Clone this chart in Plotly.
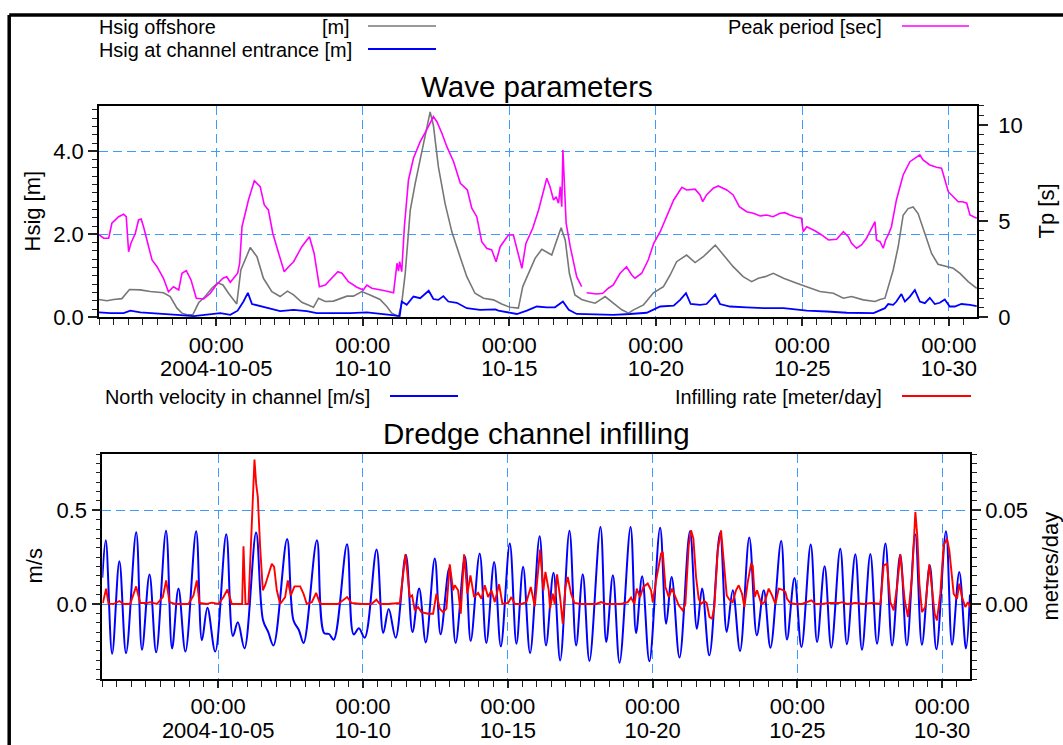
import datetime as dt
import plotly.graph_objects as go

# ---------------- data (days after 2004-10-01 00:00) ----------------
HS_OFF_DAY = [0.0, 0.27, 0.5, 0.78, 1.04, 1.41, 1.75, 2.2, 2.43, 2.66, 2.83, 3.0, 3.2, 3.4, 3.62, 3.85, 4.05, 4.23,
              4.42, 4.7, 4.84, 5.02, 5.16, 5.39, 5.61, 5.9, 6.18, 6.43, 6.64, 6.92, 7.32, 7.49, 7.72, 8.0, 8.46, 8.68,
              8.97, 9.25, 9.59, 9.82, 9.99, 10.22, 10.33, 10.45, 10.62, 10.79, 10.96, 11.13, 11.3, 11.41, 11.58, 11.81,
              12.04, 12.32, 12.55, 12.83, 13.12, 13.46, 13.74, 14.03, 14.31, 14.46, 14.65, 14.88, 15.11, 15.28, 15.45,
              15.62, 15.77, 15.91, 16.05, 16.24, 16.47, 16.7, 16.93, 17.1, 17.27, 17.55, 17.84, 18.07, 18.24, 18.58,
              18.92, 19.26, 19.49, 19.71, 20.05, 20.34, 20.62, 21.03, 21.3, 21.64, 21.98, 22.27, 22.5, 22.73, 23.01,
              23.36, 23.81, 24.26, 24.6, 25.06, 25.4, 25.68, 26.08, 26.48, 26.65, 26.82, 26.93, 27.1, 27.27, 27.44,
              27.61, 27.78, 27.95, 28.18, 28.41, 28.63, 28.92, 29.15, 29.38, 29.66, 29.95]
HS_OFF = [0.43, 0.40, 0.43, 0.45, 0.67, 0.66, 0.62, 0.59, 0.5, 0.22, 0.1, 0.06, 0.06, 0.35, 0.5, 0.7, 0.83, 0.78,
          0.58, 0.32, 1.14, 1.44, 1.68, 1.46, 0.94, 0.62, 0.5, 0.63, 0.54, 0.36, 0.24, 0.46, 0.38, 0.39, 0.51, 0.51,
          0.62, 0.54, 0.43, 0.26, 0.1, 0.02, 0.34, 1.06, 2.58, 3.23, 3.79, 4.43, 4.95, 4.63, 3.63, 2.74,
          2.06, 1.46, 0.98, 0.58, 0.46, 0.42, 0.32, 0.24, 0.22, 0.74, 1.06, 1.42, 1.64, 1.58, 1.5,
          1.86, 2.16, 1.86, 1.06, 0.54, 0.43, 0.38, 0.34, 0.42, 0.5, 0.34, 0.18, 0.1, 0.18, 0.3,
          0.59, 0.74, 1.02, 1.34, 1.5, 1.32, 1.46, 1.74, 1.5, 1.22, 0.98, 0.86, 0.94, 0.98, 1.06,
          0.94, 0.82, 0.7, 0.62, 0.58, 0.46, 0.5, 0.42, 0.38, 0.43, 0.46, 0.74, 1.14, 1.7, 2.46,
          2.62, 2.66, 2.5, 2.02, 1.54, 1.28, 1.22, 1.18, 1.06, 0.86, 0.7]

HS_CH_DAY = [0.0, 0.38, 0.84, 1.07, 1.41, 1.98, 2.66, 3.23, 3.68, 4.14, 4.48, 4.73, 4.93, 5.08, 5.22, 5.5, 5.84, 6.18,
             6.64, 7.09, 7.43, 8.0, 8.57, 9.14, 9.48, 9.93, 10.26, 10.33, 10.5, 10.73, 10.96, 11.25, 11.41, 11.58,
             11.75, 11.92, 12.21, 12.55, 13.0, 13.52, 13.63, 13.97, 14.26, 14.6, 14.94, 15.28, 15.56, 15.83, 16.03,
             16.3, 16.98, 17.55, 18.12, 18.69, 19.15, 19.61, 19.83, 20.03, 20.19, 20.51, 20.73, 21.03, 21.19, 21.53,
             22.1, 22.67, 23.36, 24.15, 24.83, 25.52, 26.43, 26.82, 26.93, 27.1, 27.21, 27.38, 27.5, 27.67, 27.84,
             28.01, 28.18, 28.35, 28.52, 28.69, 28.86, 29.03, 29.2, 29.43, 29.72, 29.95]
HS_CH = [0.12, 0.1, 0.1, 0.16, 0.12, 0.1, 0.06, 0.03, 0.06, 0.1, 0.06, 0.16, 0.38, 0.59, 0.32, 0.27, 0.22, 0.15,
         0.18, 0.15, 0.1, 0.1, 0.1, 0.12, 0.1, 0.06, 0.03, 0.38, 0.3, 0.5, 0.46, 0.64, 0.44, 0.42,
         0.51, 0.38, 0.35, 0.22, 0.18, 0.19, 0.16, 0.11, 0.08, 0.16, 0.26, 0.24, 0.24, 0.38, 0.18,
         0.08, 0.06, 0.06, 0.08, 0.11, 0.26, 0.28, 0.42, 0.58, 0.32, 0.3, 0.32, 0.55, 0.32, 0.26,
         0.24, 0.22, 0.22, 0.16, 0.14, 0.11, 0.1, 0.22, 0.32, 0.3, 0.38, 0.56, 0.38, 0.5, 0.66,
         0.38, 0.34, 0.47, 0.32, 0.35, 0.43, 0.26, 0.26, 0.32, 0.3, 0.27]

TP_DAY = [0.01, 0.16, 0.33, 0.44, 0.67, 0.84, 0.93, 1.01, 1.09, 1.24, 1.35, 1.44, 1.52, 1.69, 1.81, 1.98, 2.2, 2.37,
          2.54, 2.72, 2.83, 2.98, 3.14, 3.32, 3.57, 3.8, 4.0, 4.23, 4.36, 4.48, 4.73, 4.8, 4.88, 5.1, 5.3, 5.5, 5.64,
          5.78, 5.93, 6.13, 6.32, 6.47, 6.64, 6.92, 7.18, 7.34, 7.52, 7.72, 8.0, 8.15, 8.29, 8.51, 8.8, 9.02, 9.14,
          9.31, 9.71, 10.05, 10.17, 10.22, 10.26, 10.33, 10.42, 10.56, 10.73, 10.96, 11.18, 11.41, 11.53, 11.7,
          11.87, 12.1, 12.33, 12.57, 12.72, 12.89, 13.06, 13.23, 13.4, 13.55, 13.69, 13.97, 14.14, 14.28, 14.43,
          14.57, 14.8, 15.0, 15.17, 15.28, 15.39, 15.51, 15.6, 15.68, 15.74, 15.79, 15.83, 15.87, 15.94, 16.08,
          16.3, 16.47, 16.55, 16.64, 16.98, 17.19, 17.38, 17.55, 17.78, 18.0, 18.18, 18.29, 18.52, 18.74, 18.93,
          19.15, 19.38, 19.61, 19.89, 20.05, 20.34, 20.51, 20.6, 20.73, 20.96, 21.13, 21.42, 21.64, 21.85, 22.1,
          22.33, 22.56, 22.78, 23.0, 23.24, 23.4, 23.58, 23.8, 23.97, 24.03, 24.15, 24.43, 24.66, 24.89, 25.17,
          25.4, 25.57, 25.68, 25.85, 26.02, 26.19, 26.36, 26.48, 26.53, 26.65, 26.76, 26.84, 26.93, 27.04, 27.21,
          27.44, 27.67, 28.01, 28.12, 28.35, 28.58, 28.75, 28.98, 29.15, 29.32, 29.47, 29.61, 29.72, 29.83, 29.95]
TP = [4.28, 4.11, 4.11, 4.89, 5.23, 5.36, 5.23, 3.41, 3.85, 4.37, 5.06, 5.11, 4.71, 3.67, 2.98, 2.63, 2.03, 1.33,
      1.59, 1.42, 2.29, 2.43, 1.94, 0.99, 0.95, 1.25, 1.68, 2.03, 2.11, 1.82, 2.29, 2.81, 4.71, 6.1, 7.1, 6.79, 5.84,
      5.58, 4.37, 3.33, 2.37, 2.63, 2.89, 3.67, 4.19, 3.33, 1.59, 1.68, 2.11, 2.37, 2.29, 1.85, 1.56, 1.42, 1.68,
      1.51, 1.39, 1.28, 2.81, 2.4, 2.89, 2.37, 4.71, 7.14, 8.27, 9.13, 9.74, 10.43, 10.17, 9.57,
      8.87, 8.09, 6.97, 6.62, 5.67, 5.23, 3.93, 3.59, 3.5, 2.89, 3.67, 4.28, 4.28, 3.5, 2.55,
      3.85, 4.63, 5.58, 6.62, 7.23, 6.79, 6.1, 6.27, 5.93, 6.79, 5.75, 8.7, 7.14, 4.89, 3.67,
      2.11, 1.59, None, 1.28, 1.21, 1.25, 1.51, 1.68, 2.29, 2.63, 2.2, 2.03, 2.29, 2.98, 3.85,
      4.45, 5.23, 6.1, 6.76, 6.62, 6.66, 6.36, 6.01, 6.36, 6.71, 6.83, 6.62, 6.36, 5.75, 5.49,
      5.41, 5.27, 5.32, 5.23, 5.41, 5.44, 5.32, 5.2, 5.15, 4.45, 4.71, 4.5, 4.28, 4.02, 4.06,
      4.45, 4.19, 3.85, 3.59, 3.76, 4.11, 4.63, 4.97, 4.02, 3.93, 3.59, 4.02, 4.28, 4.71, 6.1,
      7.4, 8.09, 8.44, 8.18, 7.92, 7.8, 7.75, 6.53, 6.27, 6.01, 6.01, 5.93, 5.32, 5.23, 5.15]

VEL_DAY = [0.0, 0.12, 0.34, 0.59, 0.82, 1.17, 1.37, 1.63, 1.86, 2.2, 2.41, 2.63, 2.87, 3.24, 3.44, 3.63, 3.9, 4.28,
           4.51, 4.68, 4.91, 5.31, 5.55, 5.73, 5.91, 6.38, 6.6, 6.79, 6.95, 7.41, 7.66, 7.83, 7.99, 8.45, 8.68, 8.86,
           9.06, 9.47, 9.7, 9.89, 10.13, 10.48, 10.71, 10.94, 11.17, 11.48, 11.68, 11.98, 12.2, 12.52, 12.72, 13.03,
           13.26, 13.53, 13.76, 14.07, 14.3, 14.53, 14.77, 15.1, 15.32, 15.58, 15.81, 16.13, 16.36, 16.59, 16.82,
           17.2, 17.4, 17.63, 17.86, 18.24, 18.43, 18.64, 18.89, 19.26, 19.47, 19.66, 19.93, 20.29, 20.53, 20.71,
           20.96, 21.33, 21.56, 21.77, 22.02, 22.34, 22.6, 22.84, 23.07, 23.44, 23.64, 23.9, 24.14, 24.46, 24.68,
           24.94, 25.17, 25.48, 25.71, 26.0, 26.23, 26.52, 26.75, 27.04, 27.27, 27.55, 27.78, 28.07, 28.3, 28.57,
           28.8, 29.13, 29.34, 29.59, 29.82, 29.96]
VEL = [0.14, 0.34, -0.265, 0.228, -0.262, 0.383, -0.244, 0.157, -0.258, 0.391, -0.237, 0.082, -0.254, 0.388, -0.194,
       -0.02, -0.254, 0.372, -0.171, -0.098, -0.237, 0.381, -0.087, -0.15, -0.221, 0.347, -0.087, -0.14, -0.208,
       0.34, -0.155, -0.16, -0.19, 0.318, -0.162, -0.13, -0.18, 0.29, -0.155, -0.027, -0.18, 0.263, -0.15, 0.082,
       -0.205, 0.242, -0.162, 0.192, -0.208, 0.254, -0.197, 0.269, -0.208, 0.224, -0.226, 0.322, -0.212, 0.198,
       -0.262, 0.361, -0.221, 0.167, -0.301, 0.39, -0.221, 0.158, -0.304, 0.411, -0.203, 0.153, -0.313, 0.411,
       -0.155, 0.148, -0.306, 0.406, -0.105, 0.144, -0.286, 0.388, -0.132, 0.082, -0.274, 0.379, -0.149, 0.073,
       -0.251, 0.354, -0.167, 0.073, -0.233, 0.336, -0.19, 0.139, -0.23, 0.317, -0.203, 0.201, -0.233, 0.294,
       -0.215, 0.265, -0.244, 0.267, -0.212, 0.322, -0.221, 0.263, -0.221, 0.37, -0.217, 0.206, -0.242, 0.388,
       -0.217, 0.171, -0.238, 0.05]

INF_DAY = [0.018, 0.133, 0.214, 0.387, 0.594, 0.732, 0.962, 1.169, 1.307, 1.537, 1.652, 1.883, 2.09, 2.205, 2.32,
           2.516, 2.803, 2.976, 3.148, 3.264, 3.356, 3.609, 3.781, 4.012, 4.184, 4.322, 4.472, 4.759, 4.829, 4.875,
           4.944, 5.047, 5.162, 5.254, 5.312, 5.369, 5.45, 5.542, 5.623, 5.738, 5.853, 5.933, 6.025, 6.14, 6.313,
           6.405, 6.509, 6.635, 6.831, 6.946, 7.061, 7.234, 7.383, 7.498, 7.567, 7.797, 8.143, 8.453, 8.603, 8.948,
           9.293, 9.466, 9.581, 9.869, 10.272, 10.467, 10.617, 10.697, 10.789, 10.904, 11.019, 11.25, 11.422,
           11.537, 11.652, 11.767, 11.882, 11.997, 12.113, 12.17, 12.285, 12.377, 12.492, 12.607, 12.711, 12.838,
           12.976, 13.091, 13.206, 13.321, 13.436, 13.551, 13.701, 13.816, 14.012, 14.127, 14.242, 14.472, 14.645,
           14.795, 14.933, 15.116, 15.231, 15.3, 15.415, 15.461, 15.553, 15.622, 15.703, 15.806, 15.898, 15.99,
           16.071, 16.186, 16.301, 16.531, 16.819, 17.049, 17.222, 17.394, 17.625, 17.912, 18.142, 18.257, 18.373,
           18.453, 18.568, 18.683, 18.833, 18.948, 19.006, 19.121, 19.294, 19.351, 19.443, 19.558, 19.673, 19.788,
           19.903, 20.041, 20.133, 20.248, 20.329, 20.409, 20.501, 20.593, 20.674, 20.789, 20.869, 20.962, 21.054,
           21.134, 21.249, 21.364, 21.479, 21.56, 21.652, 21.767, 21.882, 21.974, 22.089, 22.17, 22.285, 22.4,
           22.458, 22.527, 22.608, 22.757, 22.872, 23.01, 23.125, 23.24, 23.355, 23.47, 23.585, 23.643, 23.758,
           23.931, 24.161, 24.334, 24.483, 24.621, 24.851, 25.081, 25.427, 25.542, 25.714, 26.002, 26.29, 26.577,
           26.865, 26.98, 27.095, 27.21, 27.325, 27.44, 27.555, 27.704, 27.819, 27.958, 28.073, 28.142, 28.211,
           28.303, 28.418, 28.556, 28.648, 28.74, 28.82, 28.935, 29.05, 29.165, 29.246, 29.396, 29.511, 29.591,
           29.683, 29.798, 29.89, 29.97]
INF = [0.0005, 0.0082, 0.0002, 0.0, 0.0016, 0.0, 0.0, 0.0094, 0.0005, 0.0005, 0.001, 0.0, 0.0037, 0.0126, 0.001,
       0.0, 0.0, 0.0, 0.0046, 0.0126, 0.0005, 0.0, 0.0007, 0.0, 0.0037, 0.0077, 0.0, 0.0, 0.0, 0.0308,
       0.0, 0.0, 0.0464, 0.077, 0.0642, 0.0571, 0.0304, 0.0073, 0.01, 0.0153, 0.0215, 0.0198, 0.0073, 0.0, 0.0037,
       0.0126, 0.0046, 0.0094, 0.0094, 0.0055, 0.0, 0.001, 0.0059, 0.001, 0.0, 0.0, 0.0, 0.0037, 0.0005, 0.0,
       0.0, 0.0023, 0.0, 0.0, 0.0005, 0.0265, 0.0037, 0.0046, -0.0034, -0.0016, -0.0043, -0.0052, -0.0052,
       0.0055, -0.0025, -0.0043, -0.0025, 0.0212, 0.0073, 0.01, 0.0073, -0.0052, 0.0265, 0.0055, 0.0153, 0.0037,
       0.0059, 0.0028, 0.01, 0.0037, 0.0073, 0.001, 0.0105, 0.0, 0.0005, 0.0037, 0.0, 0.0, 0.001,
       0.0091, -0.0012, 0.029, 0.0073, 0.0171, 0.0073, -0.0025, 0.0055, 0.0, 0.0158, 0.0037, -0.0105, 0.0091,
       0.0144, 0.0055, 0.0005, 0.0, 0.0, 0.0, 0.001, 0.0, 0.0, 0.0, 0.001, 0.0034, 0.0,
       0.0082, 0.0037, 0.0091, 0.0109, 0.0073, 0.001, 0.0126, 0.0269, 0.0278, 0.0091, 0.0037, 0.0082, 0.0037,
       -0.0007, -0.0034, 0.0, 0.0313, 0.0393, 0.0349, 0.0144, 0.0028, 0.0, 0.0016, 0.0005, -0.0069, -0.0078,
       -0.0016, 0.0286, 0.0393, 0.018, 0.0046, 0.0023, 0.001, 0.0073, 0.01, 0.0055, -0.0016, 0.0117, 0.0212,
       0.0205, 0.0037, 0.0073, 0.0, 0.001, 0.0082, 0.0046, 0.0, 0.0082, 0.0077, 0.0064, 0.0028, 0.0005,
       0.0, 0.0, 0.001, 0.002, 0.0, 0.0, 0.0005, 0.0005, 0.001, 0.0, 0.0005, 0.0, 0.0005,
       0.0, 0.0206, 0.0215, 0.001, -0.0034, 0.0091, 0.0265, 0.002, -0.0069, 0.0144, 0.0491, 0.0358, 0.0109,
       -0.0043, -0.0016, 0.0212, 0.0073, -0.0052, -0.0087, 0.0055, 0.0313, 0.0349, 0.0286, 0.0055, 0.0028, 0.0109,
       0.0037, -0.0016, 0.001, -0.0016]

MAJOR_DAYS = [4, 9, 14, 19, 24, 29]
TICK_TIME = ["00:00"] * 6
TICK_DATE = ["2004-10-05", "10-10", "10-15", "10-20", "10-25", "10-30"]

# ---------------- helpers ----------------
BASE = dt.datetime(2004, 10, 1)
def to_t(days):
    return [BASE + dt.timedelta(days=d) for d in days]

W, H = 1063, 745          # reference picture size (layout positions are given in these pixels)
FIG_H = 758               # figure height that fills the captured area
def fx(p):
    return p / W
def fy(p):
    return 1 - p / H

FONT = "Liberation Sans, Arial, Helvetica, sans-serif"
GRID = "#3d9bff"
DASH = "9px,5px"
X_RANGE = [BASE, BASE + dt.timedelta(days=29.96)]
MAJOR_T = to_t(MAJOR_DAYS)

fig = go.Figure()

# top panel
fig.add_trace(go.Scatter(x=to_t(HS_OFF_DAY), y=HS_OFF, mode="lines", line=dict(color="#777777", width=1.6),
                         xaxis="x", yaxis="y", showlegend=False))
fig.add_trace(go.Scatter(x=to_t(HS_CH_DAY), y=HS_CH, mode="lines", line=dict(color="#0000ff", width=1.8),
                         xaxis="x", yaxis="y", showlegend=False))
fig.add_trace(go.Scatter(x=to_t(TP_DAY), y=TP, mode="lines", line=dict(color="#ff00ff", width=1.6),
                         xaxis="x", yaxis="y2", showlegend=False, connectgaps=False))
# bottom panel
fig.add_trace(go.Scatter(x=to_t(VEL_DAY), y=VEL, mode="lines", line=dict(color="#0000ff", width=2, shape="spline"),
                         xaxis="x2", yaxis="y3", showlegend=False))
fig.add_trace(go.Scatter(x=to_t(INF_DAY), y=INF, mode="lines", line=dict(color="#ff0000", width=1.9),
                         xaxis="x2", yaxis="y4", showlegend=False))
# helper traces for second line of date tick labels
fig.add_trace(go.Scatter(x=MAJOR_T, y=[None] * len(MAJOR_T), mode="lines", xaxis="x3", yaxis="y",
                         showlegend=False, hoverinfo="skip"))
fig.add_trace(go.Scatter(x=MAJOR_T, y=[None] * len(MAJOR_T), mode="lines", xaxis="x4", yaxis="y3",
                         showlegend=False, hoverinfo="skip"))

tickfont = dict(family=FONT, size=22, color="black")

def xaxis_common(domain, anchor):
    return dict(domain=domain, anchor=anchor, range=X_RANGE, type="date",
                tickmode="array", tickvals=MAJOR_T, ticktext=TICK_TIME, tickfont=tickfont,
                ticks="outside", ticklen=7, tickwidth=1.5, tickcolor="#222", ticklabelstandoff=0,
                showgrid=True, gridcolor=GRID, griddash=DASH, gridwidth=1.3,
                showline=True, linecolor="black", linewidth=1.6, mirror=True, zeroline=False,
                minor=dict(tickmode="linear", tick0=BASE, dtick=43200000, ticks="outside", ticklen=6,
                           tickwidth=1.3, tickcolor="#222", showgrid=False))

def xaxis_dates(over, anchor, standoff):
    return dict(overlaying=over, anchor=anchor, side="bottom", range=X_RANGE, type="date",
                tickmode="array", tickvals=MAJOR_T, ticktext=TICK_DATE, tickfont=tickfont,
                ticks="", showgrid=False, showline=False, zeroline=False, ticklabelstandoff=standoff)

top_dom = [fy(317.3), fy(105.7)]
bot_dom = [fy(679), fy(454)]

fig.update_layout(
    width=W, height=FIG_H, margin=dict(l=0, r=0, t=0, b=0),
    paper_bgcolor="white", plot_bgcolor="white", showlegend=False,
    font=dict(family=FONT, color="black"),
    xaxis=xaxis_common([fx(99), fx(977)], "y"),
    xaxis2=xaxis_common([fx(102.3), fx(970)], "y3"),
    xaxis3=xaxis_dates("x", "y", 36),
    xaxis4=xaxis_dates("x2", "y3", 36),
    yaxis=dict(domain=top_dom, anchor="x", range=[0, 5.1], dtick=2, tick0=0, tickformat=".1f",
               tickfont=tickfont, ticks="outside", ticklen=9, tickwidth=1.5, tickcolor="#222",
               showgrid=True, gridcolor=GRID, griddash=DASH, gridwidth=1.3, zeroline=False,
               showline=True, linecolor="black", linewidth=1.6,
               minor=dict(dtick=0.2, ticks="outside", ticklen=5, tickwidth=1.2, tickcolor="#222", showgrid=False)),
    yaxis2=dict(overlaying="y", anchor="x", side="right", range=[0, 11], dtick=5, tick0=0,
                tickfont=tickfont, ticks="outside", ticklen=9, tickwidth=1.5, tickcolor="#222",
                showgrid=False, zeroline=False, showline=True, linecolor="black", linewidth=1.6,
                ticklabelstandoff=6,
                minor=dict(dtick=0.5, ticks="outside", ticklen=5, tickwidth=1.2, tickcolor="#222", showgrid=False)),
    yaxis3=dict(domain=bot_dom, anchor="x2", range=[-0.4, 0.8], dtick=0.5, tick0=0, tickformat=".1f",
                tickfont=tickfont, ticks="outside", ticklen=9, tickwidth=1.5, tickcolor="#222",
                showgrid=True, gridcolor=GRID, griddash=DASH, gridwidth=1.3, zeroline=False,
                showline=True, linecolor="black", linewidth=1.6,
                minor=dict(dtick=0.05, tick0=0, ticks="outside", ticklen=5, tickwidth=1.2, tickcolor="#222",
                           showgrid=False)),
    yaxis4=dict(overlaying="y3", anchor="x2", side="right", range=[-0.04, 0.08], dtick=0.05, tick0=0,
                tickformat=".2f", tickfont=tickfont, ticks="outside", ticklen=9, tickwidth=1.5, tickcolor="#222",
                showgrid=False, zeroline=False, showline=True, linecolor="black", linewidth=1.6,
                minor=dict(dtick=0.005, tick0=0, ticks="outside", ticklen=5, tickwidth=1.2, tickcolor="#222",
                           showgrid=False)),
)

ann = []
def text(x, y, s, size, xanchor="left", angle=0):
    ann.append(dict(x=fx(x), y=fy(y), xref="paper", yref="paper", text=s, showarrow=False,
                    xanchor=xanchor, yanchor="middle", textangle=angle,
                    font=dict(family=FONT, size=size, color="black")))

text(537, 86, "Wave parameters", 29.5, "center")
text(536, 433, "Dredge channel infilling", 29.5, "center")
text(97, 27, "Hsig offshore", 19.9)
text(352, 27, "[m]", 19.9, "right")
text(97, 50, "Hsig at channel entrance [m]", 19.9)
text(884, 27, "Peak period [sec]", 19.9, "right")
text(103, 397, "North velocity in channel [m/s]", 19.9)
text(884, 397, "Infilling rate [meter/day]", 19.9, "right")
text(32, 211.5, "Hsig [m]", 22, "center", -90)
text(1046, 211.5, "Tp [s]", 22, "center", -90)
text(34, 566.5, "m/s", 22, "center", -90)
text(1050, 566.5, "metres/day", 22, "center", -90)
fig.update_layout(annotations=ann)

shapes = []
def hline(x0, x1, y, color, width):
    shapes.append(dict(type="line", xref="paper", yref="paper", x0=fx(x0), x1=fx(x1), y0=fy(y), y1=fy(y),
                       line=dict(color=color, width=width)))

hline(368, 436, 26, "#777777", 1.6)
hline(368, 436, 49, "#0000ff", 1.8)
hline(902, 969, 26, "#ff00ff", 1.6)
hline(390, 458, 396, "#0000ff", 1.8)
hline(902, 971, 396, "#ff0000", 1.8)
# outer frame
shapes.append(dict(type="line", xref="paper", yref="paper", x0=fx(9.2), x1=fx(1075), y0=fy(15), y1=fy(15),
                   line=dict(color="black", width=3.5)))
shapes.append(dict(type="line", xref="paper", yref="paper", x0=fx(9.2), x1=fx(9.2), y0=fy(15), y1=fy(780),
                   line=dict(color="black", width=3.5)))
fig.update_layout(shapes=shapes)

POST = ("var d=document.getElementById('{plot_id}');"
        "d.style.position='absolute';d.style.left='0px';d.style.top='0px';"
        "document.body.style.margin='0px';document.body.style.overflow='hidden';"
        "document.documentElement.style.overflow='hidden';")
fig.write_html("out.html", config={"displayModeBar": False}, post_script=POST)
